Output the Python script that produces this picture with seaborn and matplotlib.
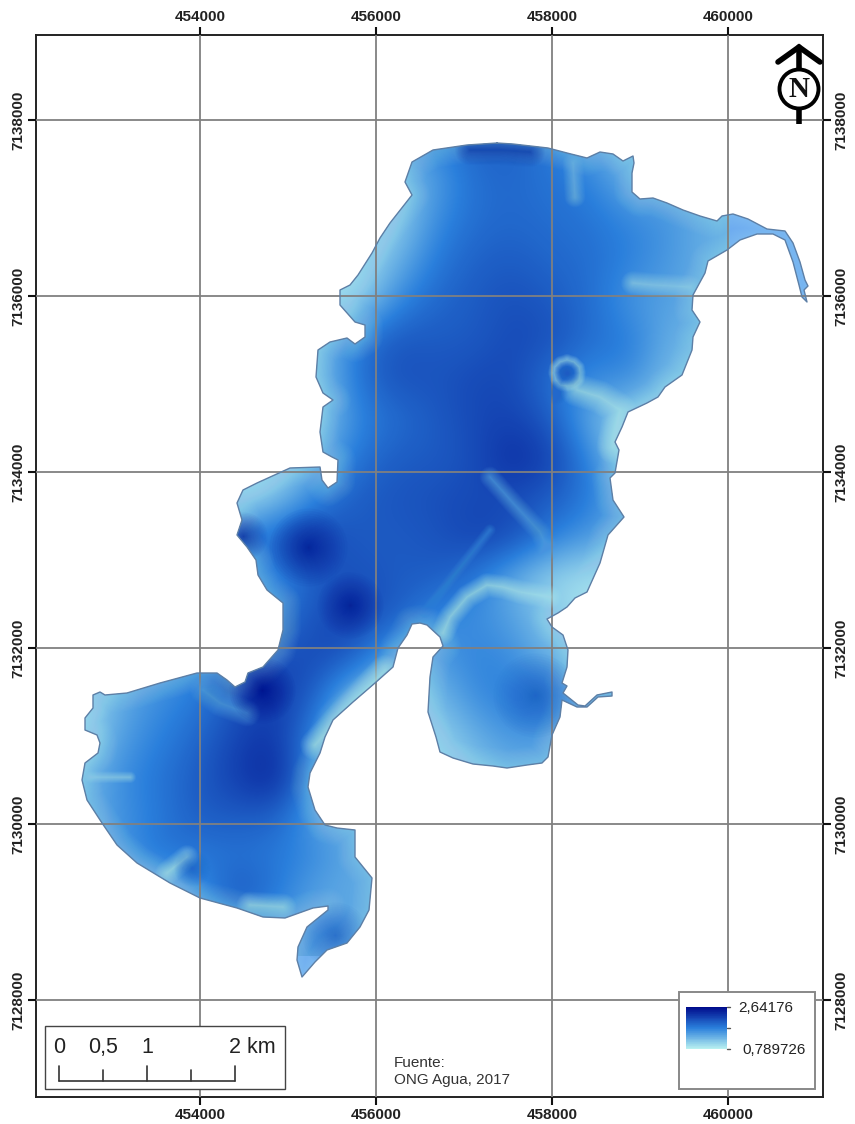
import numpy as np
import pandas as pd
import matplotlib
matplotlib.use("Agg")
import matplotlib.pyplot as plt
from matplotlib.colors import Normalize
from matplotlib.patches import Polygon, Rectangle, Circle
import seaborn as sns

# map grid labels
x_ticks = [454000, 456000, 458000, 460000]
y_ticks = [7128000, 7130000, 7132000, 7134000, 7136000, 7138000]
depth_max = 2.64176
depth_min = 0.789726

# lake shoreline (image px, calibrated to UTM below)
shore_px = [
    (497,143),(513,144),(548,148),(567,153),(587,158),(600,152),(613,154),(623,161),(633,156),(634,163),
    (632,173),(632,192),(640,199),(653,198),(667,203),(683,210),(700,216),(717,221),(722,216),(733,214),
    (748,219),(767,229),(785,231),(793,243),(800,262),(805,280),(808,286),(804,290),(807,302),(802,297),
    (799,285),(793,262),(785,240),(773,234),(757,234),(740,240),(727,250),(708,261),(705,273),(693,295),
    (692,310),(700,322),(693,337),(692,350),(682,375),(665,387),(658,397),(647,403),(628,412),(622,427),
    (615,442),(619,450),(615,473),(610,478),(613,500),(624,517),(608,535),(600,563),(587,592),(575,598),
    (567,607),(558,613),(547,619),(552,627),(563,635),(568,650),(567,667),(562,683),(567,686),(563,693),
    (578,705),(585,706),(597,695),(612,692),(612,696),(598,697),(587,707),(577,707),(562,700),(560,717),
    (552,735),(548,757),(542,763),(527,765),(507,768),(493,766),(473,764),(453,758),(440,752),(436,737),
    (428,712),(430,677),(433,657),(443,646),(440,637),(427,625),(420,623),(412,624),(407,635),(398,648),
    (393,667),(375,683),(353,702),(333,720),(325,737),(320,753),(310,773),(308,787),(315,810),(325,825),
    (337,828),(355,830),(355,857),(372,878),(369,910),(360,927),(347,943),(327,950),(315,962),(302,977),
    (297,960),(298,947),(307,927),(328,910),(328,906),(313,908),(285,918),(263,917),(237,908),(200,898),
    (170,883),(137,863),(117,845),(102,823),(87,800),(82,780),(85,763),(98,753),(100,743),(97,735),
    (85,730),(85,718),(93,708),(93,695),(100,692),(105,695),(127,693),(160,683),(197,673),(217,673),
    (227,680),(235,687),(245,682),(248,673),(263,667),(278,650),(283,630),(283,603),(267,590),(258,575),
    (256,560),(247,547),(237,535),(242,520),(237,503),(243,490),(257,483),(290,468),(320,467),(322,480),
    (328,488),(337,482),(338,460),(332,457),(323,452),(320,432),(323,407),(333,400),(323,393),(316,377),
    (318,350),(330,342),(347,338),(355,344),(365,337),(365,325),(355,322),(340,305),(340,290),(350,285),
    (358,275),(372,253),(380,238),(390,223),(412,195),(405,182),(412,162),(433,150),(467,145),
]

# depth read by eye on a ~40 px lattice (rows top to bottom, columns left to right)
depth_rows = [
    [1.5,1.5,1.5,1.5,1.5,1.5,1.5,1.5,1.5,1.7,1.95,1.95,1.75,1.4,1.2,1.2,1.3],
    [1.5,1.5,1.5,1.5,1.5,1.5,1.3,1.2,1.1,1.45,1.85,1.9,1.8,1.7,1.25,1.3,1.3],
    [1.5,1.5,1.5,1.5,1.5,1.5,1.2,1.0,1.0,1.6,1.85,1.9,1.85,1.8,1.65,1.55,1.3],
    [1.5,1.5,1.5,1.5,1.5,1.5,1.1,0.9,1.25,1.75,1.95,2.0,1.9,1.85,1.7,1.5,1.3],
    [1.5,1.5,1.5,1.5,1.5,1.3,0.9,0.9,1.6,1.9,2.0,2.1,2.0,1.85,1.5,1.45,1.3],
    [1.5,1.5,1.5,1.5,1.5,1.3,1.1,1.75,2.05,2.0,2.0,2.15,2.1,1.85,1.75,1.3,1.3],
    [1.5,1.5,1.5,1.5,1.5,1.3,1.1,1.8,2.1,2.05,2.15,2.15,1.8,1.6,1.65,1.15,1.3],
    [1.5,1.5,1.5,1.5,1.5,1.2,1.0,1.65,1.85,2.0,2.15,2.2,2.0,1.3,1.0,1.0,1.3],
    [1.5,1.5,1.5,1.5,1.0,0.9,1.3,1.8,2.0,2.0,2.1,2.4,2.2,1.65,0.9,0.9,1.3],
    [1.5,1.5,1.5,1.2,0.85,1.15,1.7,2.0,2.05,2.1,2.15,2.1,2.0,1.75,1.3,1.3,1.3],
    [1.5,1.5,1.5,1.5,1.8,2.0,2.2,2.0,2.0,2.05,2.2,2.15,1.7,1.5,1.3,1.3,1.3],
    [1.5,1.5,1.5,1.5,1.5,1.6,2.0,2.1,2.0,2.0,1.8,1.3,1.0,0.9,0.9,1.3,1.3],
    [1.5,1.5,1.5,1.5,1.7,1.75,2.1,2.2,2.0,1.65,1.6,1.45,1.1,0.9,0.9,1.3,1.3],
    [1.0,1.3,1.4,1.65,1.95,2.1,2.15,2.0,1.3,1.45,1.7,1.6,1.25,1.1,1.3,1.3,1.3],
    [0.9,1.35,1.6,1.75,2.05,2.3,1.95,1.1,1.1,1.2,1.6,1.75,1.7,1.5,1.3,1.3,1.3],
    [0.9,1.45,1.7,1.9,2.2,2.3,1.6,1.0,1.0,1.0,1.3,1.55,1.5,1.3,1.3,1.3,1.3],
    [1.2,1.6,1.8,2.0,2.25,2.5,1.5,1.0,1.0,0.9,1.15,1.3,1.2,1.3,1.3,1.3,1.3],
    [1.25,1.55,1.75,2.0,2.0,1.95,1.4,1.3,1.3,1.3,1.3,1.3,1.3,1.3,1.3,1.3,1.3],
    [1.3,1.5,1.85,1.75,1.8,1.75,1.65,1.35,1.3,1.3,1.3,1.3,1.3,1.3,1.3,1.3,1.3],
    [1.3,1.1,1.0,1.55,2.15,1.8,1.35,1.4,1.3,1.3,1.3,1.3,1.3,1.3,1.3,1.3,1.3],
    [1.3,1.3,1.3,1.3,1.3,1.3,1.6,1.35,1.3,1.3,1.3,1.3,1.3,1.3,1.3,1.3,1.3],
]

# narrow features the lattice is too coarse for: (depth, width px, trace)
channels = [
    (0.85, 8, [(443,633),(450,617),(467,597),(487,585),(503,587),(520,592),(550,597)]),
    (1.4, 7, [(490,477),(513,503),(540,532),(548,550)]),
    (0.85, 11, [(577,390),(600,397),(620,410),(613,447)]),
    (1.0, 8, [(633,283),(653,285),(690,287)]),
    (1.2, 7, [(573,163),(575,197)]),
    (1.0, 4, [(90,777),(130,777)]),
    (0.85, 8, [(187,857),(167,873)]),
    (1.4, 9, [(203,690),(220,703),(247,713)]),
    (0.85, 10, [(315,745),(345,712),(385,670)]),
    (0.9, 9, [(283,907),(250,905)]),
    (1.6, 4, [(490,530),(425,612)]),
    (2.2, 10, [(470,150),(500,150),(530,152)]),
]
spots = [(2.64, 11, 262, 690), (2.0, 5, 567, 373), (1.9, 4, 555, 392), (2.4, 8, 243, 536),
         (1.9, 6, 192, 868), (1.9, 11, 335, 935), (2.5, 11, 350, 605), (2.5, 13, 308, 547),
         (1.95, 14, 535, 695)]
ring = (0.9, 4, [(567,360),(574,362),(579,367),(580,373),(579,380),(574,385),(567,386),
                 (560,385),(556,380),(554,373),(555,367),(560,362),(567,360)])

PX = 1000 / 88  # metres per image pixel


def ux(px):
    return 454000 + (np.asarray(px, dtype=float) - 200) * PX


def uy(py):
    return 7128000 - (np.asarray(py, dtype=float) - 1000) * PX


def falloff(top):
    # layer sizes packed toward the centre, so the stacked alpha fades out softly
    return top * np.linspace(1, 0.08, 26) ** 1.8


def soft_line(ax, trace, color, width, clip):
    xs, ys = zip(*trace)
    for w in falloff(3.0):
        line, = ax.plot(ux(xs), uy(ys), color=color, lw=width * w * 0.72, alpha=0.05,
                        solid_capstyle="round", solid_joinstyle="round", zorder=3)
        line.set_clip_path(clip)


sns.set_theme(style="white")
plt.rcParams["font.family"] = ["Liberation Sans", "DejaVu Sans"]

fig = plt.figure(figsize=(8.55, 11.24), dpi=100)
ax = fig.add_axes([36 / 855, 1 - 1097 / 1124, 787 / 855, 1062 / 1124])

depth_cmap = sns.blend_palette(["#b8f0f0", "#2a7fdc", "#000c8c"], n_colors=256, as_cmap=True)
norm = Normalize(depth_min, depth_max)

shore = pd.DataFrame(shore_px + shore_px[:1], columns=["px", "py"])
shore["x"] = ux(shore["px"])
shore["y"] = uy(shore["py"])

# flat colour where the raster stops (outlet and south tip)
lake = Polygon(shore[["x", "y"]].to_numpy(), closed=True, facecolor="#6aa8f5", edgecolor="none", zorder=1)
ax.add_patch(lake)

im = ax.imshow(np.array(depth_rows), cmap=depth_cmap, norm=norm, interpolation="bicubic", aspect="auto",
               extent=(ux(60), ux(730), uy(956), uy(120)), zorder=2)
im.set_clip_path(lake)

# paler rim along the shore
for w in np.linspace(26, 3, 14):
    rim, = ax.plot(shore["x"], shore["y"], color="#b8f0f0", lw=w, alpha=0.025, zorder=2.5,
                   solid_joinstyle="round")
    rim.set_clip_path(lake)

for depth, width, trace in channels + [ring]:
    soft_line(ax, trace, depth_cmap(norm(depth)), width, lake)
for depth, size, sx, sy in spots:
    for k in falloff(3.0):
        pts = ax.scatter(ux(sx), uy(sy), s=(size * k * 0.72 * 2) ** 2, color=depth_cmap(norm(depth)),
                         alpha=0.05, linewidths=0, zorder=3)
        pts.set_clip_path(lake)

sns.lineplot(data=shore, x="x", y="y", sort=False, estimator=None, color="#5d7fa6", lw=1.0,
             ax=ax, zorder=4, legend=False)

ax.set_xlim(ux(36), ux(823))
ax.set_ylim(uy(1097), uy(35))
ax.set_xlabel("")
ax.set_ylabel("")
ax.set_xticks(x_ticks)
ax.set_yticks(y_ticks)
ax.set_xticklabels([str(v) for v in x_ticks], fontsize=11, fontweight="bold", color="#222222")
ax.set_yticklabels([str(v) for v in y_ticks], fontsize=11, fontweight="bold", color="#222222",
                   rotation=90, va="center")
ax.tick_params(top=True, right=True, bottom=True, left=True, labeltop=True, labelright=True,
               length=6, width=1.5, color="#111111", pad=2)
ax.grid(True, color="#808080", lw=1.3, zorder=5)
ax.set_axisbelow(False)
for side in ax.spines.values():
    side.set_color("#222222")
    side.set_linewidth(1.4)

# scale bar
ax.add_patch(Rectangle((ux(45), uy(1089)), 240 * PX, 63 * PX, fc="white", ec="#444444", lw=1.0, zorder=6))
for label, px, ha in [("0", 59, "center"), ("0,5", 103, "center"), ("1", 147, "center"), ("2 km", 229, "left")]:
    ax.text(ux(px), uy(1047), label, fontsize=15.5, ha=ha, va="center", color="#222222", zorder=7)
ax.plot(ux([59.5, 235.5]), uy([1081, 1081]), color="#333333", lw=1.2, zorder=7)
for km, top in [(0, 1066), (0.5, 1070), (1, 1066), (1.5, 1070), (2, 1066)]:
    ax.plot(ux([59.5, 59.5]) + km * 1000, uy([top, 1081]), color="#333333", lw=1.2, zorder=7)

ax.text(ux(394), uy(1063), "Fuente:", fontsize=11, va="center", color="#333333", zorder=7)
ax.text(ux(394), uy(1080), "ONG Agua, 2017", fontsize=11, va="center", color="#333333", zorder=7)

# legend box
ax.add_patch(Rectangle((ux(679), uy(1089)), 136 * PX, 97 * PX, fc="white", ec="#888888", lw=1.4, zorder=6))
ramp_ax = fig.add_axes([686 / 855, 1 - 1049 / 1124, 41 / 855, 42 / 1124], zorder=8)
sns.heatmap(pd.DataFrame(np.linspace(depth_max, depth_min, 64)), cmap=depth_cmap, norm=norm, cbar=False,
            xticklabels=False, yticklabels=False, ax=ramp_ax)
for py in [1007, 1028, 1049]:
    ax.plot(ux([727, 730]), uy([py, py]), color="#555555", lw=1.0, zorder=7)
ax.text(ux(738), uy(1008), "2,64176", fontsize=11, va="center", color="#222222", zorder=7)
ax.text(ux(742), uy(1050), "0,789726", fontsize=11, va="center", color="#222222", zorder=7)

# north arrow
ax.plot(ux([778, 799, 820]), uy([62, 47, 62]), color="black", lw=4.0, solid_joinstyle="miter", zorder=7)
ax.plot(ux([799, 799]), uy([47, 70]), color="black", lw=4.0, zorder=7)
ax.plot(ux([799, 799]), uy([108, 124]), color="black", lw=4.0, solid_capstyle="butt", zorder=7)
ax.add_patch(Circle((ux(799), uy(89)), 19.5 * PX, fc="white", ec="black", lw=2.8, zorder=7))
ax.text(ux(799), uy(89), "N", family="Liberation Serif", fontsize=21, fontweight="bold", ha="center",
        va="center", color="#111111", zorder=8)

fig.savefig("out.png", dpi=100)
